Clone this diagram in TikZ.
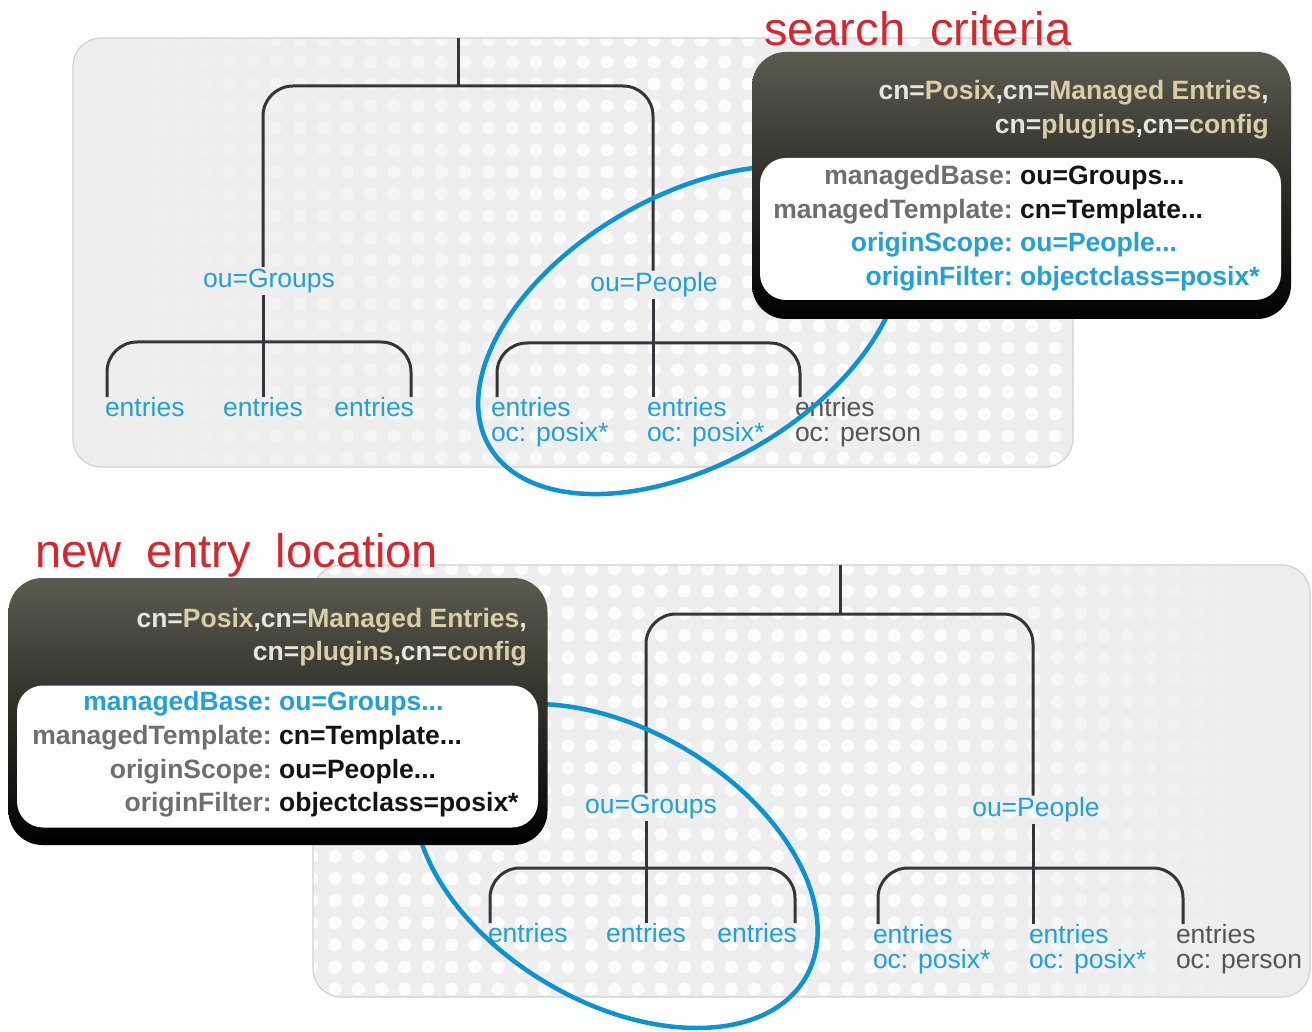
\documentclass[tikz,border=0pt]{standalone}
\usepackage{fontspec}
\setmainfont{Liberation Sans}
\usetikzlibrary{calc}

\definecolor{panelgray}{HTML}{EEEEEE}
\definecolor{panelline}{HTML}{D2D2D2}
\definecolor{treeline}{HTML}{33363A}
\definecolor{hiblue}{HTML}{0B93D6}
\definecolor{lblue}{HTML}{21A0DB}
\definecolor{entgray}{HTML}{555555}
\definecolor{keygray}{HTML}{6E6E6E}
\definecolor{valblack}{HTML}{141414}
\definecolor{hdrwhite}{HTML}{E6E6E0}
\definecolor{hdrbeige}{HTML}{D8CFA8}
\definecolor{boxtop}{HTML}{5C5B4F}
\definecolor{boxmid}{HTML}{2E2D28}
\definecolor{titlered}{HTML}{D7262E}

\newcommand\hdrw[1]{\textcolor{hdrwhite}{#1}}
\newcommand\hdrb[1]{\textcolor{hdrbeige}{#1}}

\tikzset{
  panel/.style={fill=panelgray, rounded corners=28pt},
  panelrim/.style={draw=panelline, line width=1.2pt, rounded corners=28pt},
  tree/.style={draw=treeline, line width=3pt, rounded corners=30pt},
  lbl/.style={inner sep=0pt, outer sep=0pt, font=\fontsize{26.5}{25}\selectfont, text=lblue, align=left},
  lblgray/.style={lbl, text=entgray},
  hilite/.style={draw=hiblue, line width=4.5pt},
  darkbox/.style={rounded corners=34pt, top color=boxtop, bottom color=black, middle color=boxmid,
                  minimum width=539pt, minimum height=267pt, inner sep=0pt},
  whitebox/.style={fill=white, rounded corners=26pt, minimum width=521pt, minimum height=142pt, inner sep=0pt},
  hdr/.style={inner sep=0pt, font=\bfseries\fontsize{26.5}{34}\selectfont},
  kv/.style={inner sep=0pt, font=\bfseries\fontsize{26.5}{34}\selectfont},
  keytxt/.style={kv, anchor=base east, text=keygray},
  valtxt/.style={kv, anchor=base west, text=valblack},
  hikey/.style={kv, anchor=base east, text=lblue},
  hival/.style={kv, anchor=base west, text=lblue},
  title/.style={inner sep=0pt, text=titlered, font=\fontsize{47}{47}\selectfont},
}

\begin{document}
\begin{tikzpicture}[x=1pt,y=-1pt]
\useasboundingbox (0,0) rectangle (1312,1032);
\fill[white] (0,0) rectangle (1312,1032);

% ---------- upper panel ----------
\path[panel] (73,38) rectangle (1073,467);
\begin{scope}
  \clip[rounded corners=28pt] (73,38) rectangle (1073,467);
  \foreach \k in {-35,...,8} {
    \pgfmathsetmacro\xx{890+23.6*\k}
    \pgfmathsetmacro\op{0.85*max(0,min(1,(\xx-120)/520))}
    \foreach \j in {0,...,19} {
      \fill[white, fill opacity=\op] (\xx, 40+22*\j) circle[radius=6.5pt];
    }
  }
\end{scope}
\path[panelrim] (73,38) rectangle (1073,467);

% ---------- lower panel ----------
\path[panel] (313,565) rectangle (1310,997);
\begin{scope}
  \clip[rounded corners=28pt] (313,565) rectangle (1310,997);
  \foreach \k in {-12,...,32} {
    \pgfmathsetmacro\xx{568+23.3*\k}
    \pgfmathsetmacro\op{0.85*max(0,min(1,(1250-\xx)/320))}
    \foreach \j in {-6,...,13} {
      \fill[white, fill opacity=\op] (\xx, 701.7+22.1*\j) circle[radius=6.5pt];
    }
  }
\end{scope}
\path[panelrim] (313,565) rectangle (1310,997);

% ---------- upper tree ----------
\coordinate (tA) at (458,38);
\coordinate (tL) at (263,86);
\coordinate (tR) at (653,86);
\coordinate (gbl) at (107,342);
\coordinate (gbr) at (411,342);
\coordinate (pbl) at (497,343);
\coordinate (pbr) at (800,343);

\node[lbl, outer sep=2pt] (tG) at (269,281) {ou=Groups};
\node[lbl, outer sep=2pt] (tP) at (654,285) {ou=People};
\node[lbl, anchor=north west] (e1) at (105,397) {entries};
\node[lbl, anchor=north] (e2) at (263,397) {entries};
\node[lbl, anchor=north east] (e3) at (414,397) {entries};
\node[lbl, anchor=north west] (p1) at (491,397) {entries\\oc: posix*};
\node[lbl, anchor=north west] (p2) at (647,397) {entries\\oc: posix*};
\node[lblgray, anchor=north west] (p3) at (795,397) {entries\\oc: person};

\draw[tree] (tA) -- (tA |- tL);
\draw[tree] (tG.north -| tL) -- (tL) -- (tR) -- (tP.north -| tR);
\draw[tree] (tG.south -| tL) -- (e2.north);
\draw[tree] (e1.north west -| gbl) -- (gbl) -- (gbr) -- (e3.north east -| gbr);
\draw[tree] (tP.south -| tR) -- (p2.north west -| tR);
\draw[tree] (p1.north west -| pbl) -- (pbl) -- (pbr) -- (p3.north west -| pbr);

% ---------- lower tree ----------
\coordinate (bA) at (840,565);
\coordinate (bL) at (646,614);
\coordinate (bR) at (1033,614);
\coordinate (fbl) at (490,868);
\coordinate (fbr) at (795,868);
\coordinate (hbl) at (878,868);
\coordinate (hbr) at (1183,868);

\node[lbl, outer sep=2pt] (bG) at (651,807) {ou=Groups};
\node[lbl, outer sep=2pt] (bP) at (1036,810) {ou=People};
\node[lbl, anchor=north west] (f1) at (488,923) {entries};
\node[lbl, anchor=north] (f2) at (646,923) {entries};
\node[lbl, anchor=north east] (f3) at (797,923) {entries};
\node[lbl, anchor=north west] (h1) at (873,924) {entries\\oc: posix*};
\node[lbl, anchor=north west] (h2) at (1029,924) {entries\\oc: posix*};
\node[lblgray, anchor=north west] (h3) at (1176,924) {entries\\oc: person};

\draw[tree] (bA) -- (bA |- bL);
\draw[tree] (bG.north -| bL) -- (bL) -- (bR) -- (bP.north -| bR);
\draw[tree] (bG.south -| bL) -- (f2.north);
\draw[tree] (f1.north west -| fbl) -- (fbl) -- (fbr) -- (f3.north east -| fbr);
\draw[tree] (bP.south -| bR) -- (h2.north west -| bR);
\draw[tree] (h1.north west -| hbl) -- (hbl) -- (hbr) -- (h3.north west -| hbr);

% ---------- selection rings ----------
\draw[hilite, rotate around={30:(690,330)}] (690,330) ellipse [x radius=232pt, y radius=134pt];
\draw[hilite, rotate around={-30.6:(616,866)}] (616,866) ellipse [x radius=220pt, y radius=136pt];

% ---------- upper configuration box ----------
\node[darkbox] (sbox) at (1021.5,185.5) {};
\node[whitebox] (swin) at (1020.5,229) {};
\node[hdr, anchor=base east] (sh1) at (1269,100) {\hdrw{cn=}\hdrb{Posix}\hdrw{,cn=}\hdrb{Managed Entries}\hdrw{,}};
\node[hdr, anchor=base east] (sh2) at (1269,134) {\hdrw{cn=}\hdrb{plugins}\hdrw{,cn=}\hdrb{config}};
\node[keytxt] (sk1) at (1013,184.5) {managedBase:};
\node[valtxt] (sv1) at (1020,184.5) {ou=Groups...};
\node[keytxt] (sk2) at (1013,218.5) {managedTemplate:};
\node[valtxt] (sv2) at (1020,218.5) {cn=Template...};
\node[hikey] (sk3) at (1013,251.5) {originScope:};
\node[hival] (sv3) at (1020,251.5) {ou=People...};
\node[hikey] (sk4) at (1013,285.5) {originFilter:};
\node[hival] (sv4) at (1020,285.5) {objectclass=posix*};

% ---------- lower configuration box ----------
\node[darkbox] (nbox) at (278,711.5) {};
\node[whitebox] (nwin) at (277.5,756.5) {};
\node[hdr, anchor=base east] (nh1) at (527,627) {\hdrw{cn=}\hdrb{Posix}\hdrw{,cn=}\hdrb{Managed Entries}\hdrw{,}};
\node[hdr, anchor=base east] (nh2) at (527,660) {\hdrw{cn=}\hdrb{plugins}\hdrw{,cn=}\hdrb{config}};
\node[hikey] (nk1) at (272,710.5) {managedBase:};
\node[hival] (nv1) at (279,710.5) {ou=Groups...};
\node[keytxt] (nk2) at (272,744) {managedTemplate:};
\node[valtxt] (nv2) at (279,744) {cn=Template...};
\node[keytxt] (nk3) at (272,778) {originScope:};
\node[valtxt] (nv3) at (279,778) {ou=People...};
\node[keytxt] (nk4) at (272,811.5) {originFilter:};
\node[valtxt] (nv4) at (279,811.5) {objectclass=posix*};

% ---------- headings ----------
\node[title, anchor=base west] (ttl1) at (764,46) {search\hspace{12pt} criteria};
\node[title, anchor=base west] (ttl2) at (35,567) {new\hspace{12pt} entry\hspace{12pt} location};
\end{tikzpicture}
\end{document}
